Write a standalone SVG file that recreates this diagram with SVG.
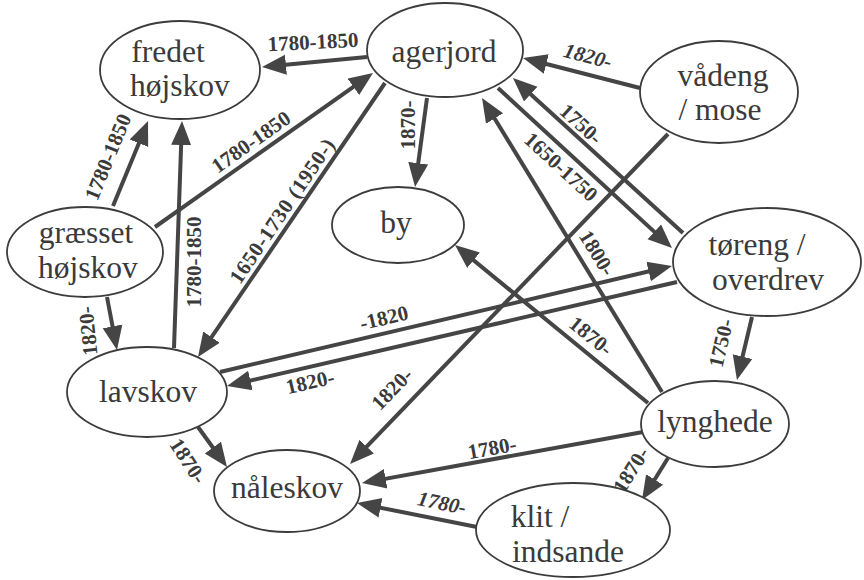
<svg xmlns="http://www.w3.org/2000/svg" width="864" height="580" viewBox="0 0 864 580">
<style>
.bg{fill:#ffffff}
.node ellipse{fill:#ffffff;stroke:#3c3c3c;stroke-width:1.8}
.node text{font-family:'Liberation Serif','Times New Roman','DejaVu Serif',Times,serif;font-size:31.5px;fill:#3a3a3a;text-anchor:middle}
.edge{stroke:#454545;stroke-width:4;fill:none;marker-end:url(#ah)}
.lbl{font-family:'Liberation Serif','Times New Roman','DejaVu Serif',Times,serif;font-size:21px;font-weight:bold;fill:#3a3a3a;text-anchor:middle;dominant-baseline:central}
.it{font-style:italic}
</style>
<defs>
<marker id="ah" markerUnits="userSpaceOnUse" markerWidth="26" markerHeight="22" viewBox="0 -11 26 22" refX="16" refY="0" orient="auto">
<path d="M0,-10 L24,0 L0,10 z" fill="#454545"/>
</marker>
</defs>
<rect class="bg" x="0" y="0" width="864" height="580"/>
<g id="connectors">
<line class="edge" x1="367" y1="57" x2="270" y2="66.2"/>
<line class="edge" x1="113" y1="206" x2="145" y2="128.4"/>
<line class="edge" x1="174" y1="348" x2="181.7" y2="129"/>
<line class="edge" x1="155" y1="227" x2="366.5" y2="77.6"/>
<line class="edge" x1="385" y1="83" x2="202.5" y2="350.4"/>
<line class="edge" x1="427" y1="98" x2="416.1" y2="179.1"/>
<line class="edge" x1="640" y1="88" x2="530.8" y2="60"/>
<line class="edge" x1="683" y1="233" x2="518.9" y2="83.4"/>
<line class="edge" x1="498" y1="88" x2="666.1" y2="242.6"/>
<line class="edge" x1="220" y1="372" x2="664.2" y2="267.8"/>
<line class="edge" x1="677" y1="282" x2="234.8" y2="384.2"/>
<line class="edge" x1="668" y1="134" x2="355.6" y2="458.2"/>
<line class="edge" x1="648" y1="403" x2="461.2" y2="250.1"/>
<line class="edge" x1="662" y1="392" x2="486.2" y2="104.8"/>
<line class="edge" x1="752" y1="317" x2="738.8" y2="372.2"/>
<line class="edge" x1="107" y1="297" x2="115.5" y2="342.1"/>
<line class="edge" x1="198" y1="427" x2="222.3" y2="460.5"/>
<line class="edge" x1="643" y1="432" x2="369.9" y2="481.6"/>
<line class="edge" x1="477" y1="527" x2="364.8" y2="504.6"/>
<line class="edge" x1="668" y1="458" x2="646.2" y2="493.2"/>
<text class="lbl" transform="translate(313,42) rotate(-3)">1780-1850</text>
<text class="lbl" transform="translate(108,157) rotate(-67.6)">1780-1850</text>
<text class="lbl" transform="translate(194,262) rotate(-90)">1780-1850</text>
<text class="lbl" transform="translate(251,142) rotate(-35.2)">1780-1850</text>
<text class="lbl" transform="translate(282,211) rotate(-55.7)" textLength="170" lengthAdjust="spacing">1650-1730 (1950-)</text>
<text class="lbl" transform="translate(408,125) rotate(-90)">1870-</text>
<text class="lbl it" transform="translate(588,56) rotate(15)">1820-</text>
<text class="lbl" transform="translate(581,124) rotate(42.4)">1750-</text>
<text class="lbl" transform="translate(561,167) rotate(42.6)">1650-1750</text>
<text class="lbl" transform="translate(384,318) rotate(-13.2)">-1820</text>
<text class="lbl" transform="translate(310,382) rotate(-13)">1820-</text>
<text class="lbl" transform="translate(392,389) rotate(-46)">1820-</text>
<text class="lbl" transform="translate(591,336) rotate(39.3)">1870-</text>
<text class="lbl" transform="translate(597,253) rotate(58.5)">1800-</text>
<text class="lbl" transform="translate(721,343) rotate(-77)">1750-</text>
<text class="lbl" transform="translate(88,331) rotate(-96)">1820-</text>
<text class="lbl" transform="translate(188,461) rotate(57)">1870-</text>
<text class="lbl" transform="translate(492,448) rotate(-10.3)">1780-</text>
<text class="lbl it" transform="translate(442,503) rotate(11.3)">1780-</text>
<text class="lbl" transform="translate(631,470) rotate(-58)">1870-</text>
</g>
<g id="fredet" class="node">
<ellipse cx="180" cy="70" rx="80" ry="49"/>
<text x="168" y="62">fredet</text>
<text x="180" y="96">højskov</text>
</g>
<g id="agerjord" class="node">
<ellipse cx="445" cy="50" rx="78" ry="47"/>
<text x="444" y="62">agerjord</text>
</g>
<g id="vadeng" class="node">
<ellipse cx="719" cy="92" rx="79" ry="51"/>
<text x="723" y="86">vådeng</text>
<text x="720" y="120">/ mose</text>
</g>
<g id="by" class="node">
<ellipse cx="398" cy="225" rx="66" ry="38"/>
<text x="396" y="233">by</text>
</g>
<g id="graesset" class="node">
<ellipse cx="85" cy="252" rx="78" ry="45"/>
<text x="86" y="243">græsset</text>
<text x="88" y="278">højskov</text>
</g>
<g id="lavskov" class="node">
<ellipse cx="147" cy="392" rx="80" ry="45"/>
<text x="148" y="402">lavskov</text>
</g>
<g id="toreng" class="node">
<ellipse cx="767" cy="262" rx="94" ry="54"/>
<text x="757" y="255">tøreng /</text>
<text x="768" y="290">overdrev</text>
</g>
<g id="lynghede" class="node">
<ellipse cx="715" cy="424" rx="74" ry="43"/>
<text x="715" y="432">lynghede</text>
</g>
<g id="naleskov" class="node">
<ellipse cx="287" cy="491" rx="73" ry="41"/>
<text x="287" y="498">nåleskov</text>
</g>
<g id="klit" class="node">
<ellipse cx="573" cy="530" rx="97" ry="47"/>
<text x="540" y="527">klit /</text>
<text x="568" y="562">indsande</text>
</g>
</svg>
